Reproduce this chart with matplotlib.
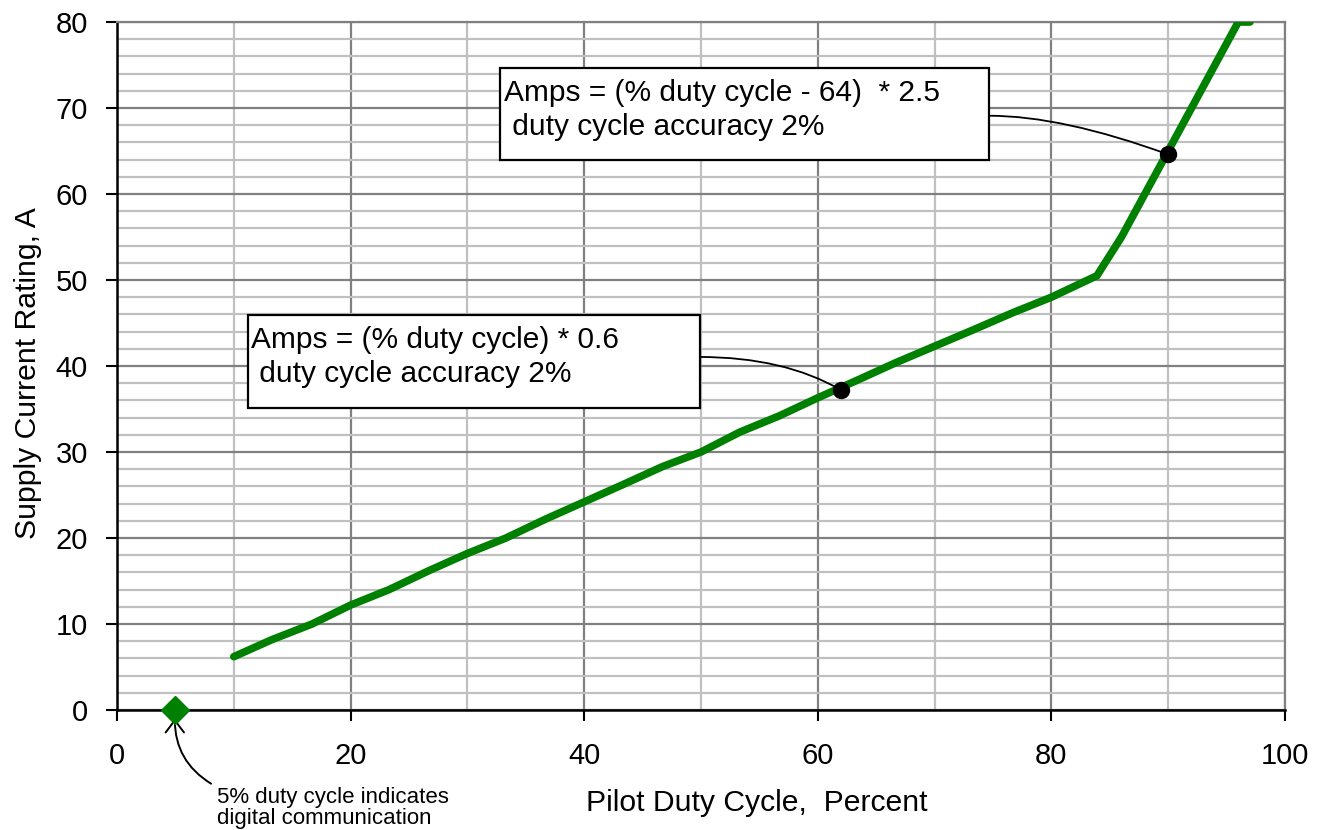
import matplotlib
matplotlib.use("Agg")
import matplotlib.pyplot as plt
from matplotlib.patches import Rectangle
from matplotlib.ticker import MultipleLocator

plt.rcParams['font.family'] = ['Liberation Sans', 'DejaVu Sans']

# pilot duty cycle (%) vs supply current rating (A)
duty = [10, 13.3, 16.7, 20, 23.3, 26.7, 30, 33.3, 36.7, 40, 43.3, 46.7, 50,
        53.3, 56.7, 60, 63.3, 66.7, 70, 73.3, 76.7, 80, 83.9,
        86, 88, 90, 92, 94, 96, 97]
amps = [6.2, 8.2, 10, 12.2, 14, 16.2, 18.2, 20, 22.2, 24.2, 26.2, 28.3, 30,
        32.3, 34.2, 36.3, 38.3, 40.4, 42.3, 44.2, 46.2, 48, 50.5,
        55, 60, 65, 70, 75, 80, 80]

digital_x, digital_y = [5], [0]
pt_low = (62, 37.2)
pt_high = (90, 64.6)

xticks = [0, 20, 40, 60, 80, 100]
yticks = [0, 10, 20, 30, 40, 50, 60, 70, 80]

green = '#008000'

fig = plt.figure(figsize=(13.18, 8.3), dpi=100)
ax = fig.add_axes([117/1318, 120/830, 1168/1318, 688/830])

ax.set_xlim(0, 100)
ax.set_ylim(0, 80)
ax.set_xticks(xticks)
ax.set_yticks(yticks)
ax.xaxis.set_minor_locator(MultipleLocator(10))
ax.yaxis.set_minor_locator(MultipleLocator(2))
ax.tick_params(which='minor', length=0)
ax.tick_params(which='major', direction='out', length=8, width=1.5, labelsize=21, colors='black')
ax.tick_params(axis='x', pad=15)
ax.tick_params(axis='y', pad=13)

ax.grid(which='minor', color='#c0c0c0', linewidth=1.6, zorder=0)
ax.grid(which='major', color='#808080', linewidth=1.6, zorder=0)
ax.set_axisbelow(True)

for s in ['left', 'bottom']:
    ax.spines[s].set_color('black')
    ax.spines[s].set_linewidth(1.8)
for s in ['top', 'right']:
    ax.spines[s].set_color('#808080')
    ax.spines[s].set_linewidth(1.6)

ax.plot(duty, amps, color=green, linewidth=5.5, solid_capstyle='round',
        solid_joinstyle='round', zorder=3)
ax.plot(digital_x, digital_y, linestyle='none', marker='D', markersize=14,
        color=green, clip_on=False, zorder=5)
ax.plot([pt_low[0], pt_high[0]], [pt_low[1], pt_high[1]], linestyle='none',
        marker='o', markersize=11.5, color='black', zorder=6)

# annotation boxes
box1 = (32.8, 63.95, 41.9, 10.7)
box2 = (11.2, 35.1, 38.7, 10.8)
for (bx, by, bw, bh) in [box1, box2]:
    ax.add_patch(Rectangle((bx, by), bw, bh, facecolor='white', edgecolor='black',
                           linewidth=1.6, zorder=4))

ax.text(box1[0] + 0.3, box1[1] + box1[3] - 1.3,
        'Amps = (% duty cycle - 64)  * 2.5\n duty cycle accuracy 2%',
        fontsize=21.5, va='top', ha='left', linespacing=1.25, zorder=5)
ax.text(box2[0] + 0.3, box2[1] + box2[3] - 1.3,
        'Amps = (% duty cycle) * 0.6\n duty cycle accuracy 2%',
        fontsize=21.5, va='top', ha='left', linespacing=1.25, zorder=5)

ax.annotate('', xy=pt_high, xytext=(box1[0] + box1[2], 69.1),
            arrowprops=dict(arrowstyle='-', color='black', lw=1.3,
                            connectionstyle='angle3,angleA=0,angleB=-20',
                            shrinkA=0, shrinkB=0), zorder=5)
ax.annotate('', xy=pt_low, xytext=(box2[0] + box2[2], 41.05),
            arrowprops=dict(arrowstyle='-', color='black', lw=1.3,
                            connectionstyle='angle3,angleA=0,angleB=-30',
                            shrinkA=0, shrinkB=0), zorder=5)

ax.annotate('5% duty cycle indicates\ndigital communication',
            xy=(4.95, -1.0), xytext=(8.6, -11.4),
            fontsize=16, ha='left', va='center', linespacing=0.95,
            annotation_clip=False,
            arrowprops=dict(arrowstyle='->,head_length=0.4,head_width=0.3',
                            color='black', lw=1.4, mutation_scale=22,
                            connectionstyle='angle3,angleA=0,angleB=90',
                            shrinkA=3, shrinkB=0))

ax.text(0.548, -0.135, 'Pilot Duty Cycle,  Percent', transform=ax.transAxes,
        fontsize=21.7, ha='center', va='center')
ax.text(-0.076, 0.49, 'Supply Current Rating, A', transform=ax.transAxes,
        fontsize=21.7, ha='center', va='center', rotation=90)

fig.savefig('out.png', dpi=100)
